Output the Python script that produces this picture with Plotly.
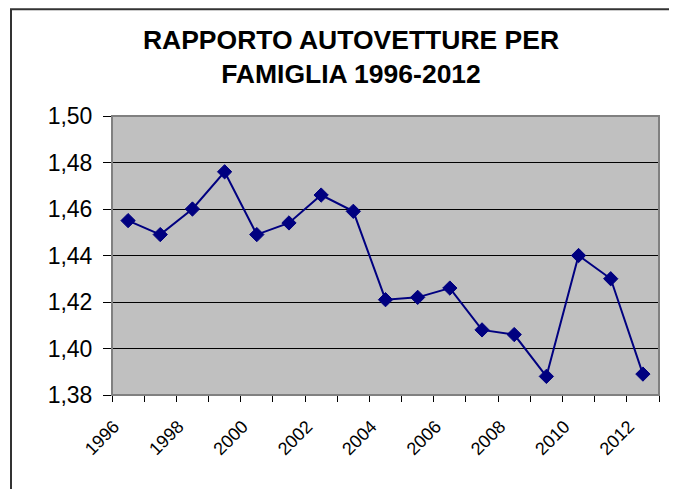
import plotly.graph_objects as go

years = [1996, 1997, 1998, 1999, 2000, 2001, 2002, 2003, 2004, 2005,
         2006, 2007, 2008, 2009, 2010, 2011, 2012]
ratio = [1.455, 1.449, 1.460, 1.476, 1.449, 1.454, 1.466, 1.459, 1.421, 1.422,
         1.426, 1.408, 1.406, 1.388, 1.440, 1.430, 1.389]
label_years = [1996, 1998, 2000, 2002, 2004, 2006, 2008, 2010, 2012]
y_ticks = [1.38, 1.40, 1.42, 1.44, 1.46, 1.48, 1.50]
title_text = "RAPPORTO AUTOVETTURE PER<br>FAMIGLIA 1996-2012"

# page body has an 8px margin, so the figure is sized/offset to compensate
OFF = 8
W, H = 677 - OFF, 489 - OFF
L, T = 112 - OFF, 116 - OFF
R = W - (659 - OFF)
B = H - (395 - OFF)
pw, ph = W - L - R, H - T - B

FONT = "Liberation Sans, Arial, sans-serif"
NAVY = "#000080"

fig = go.Figure()
fig.add_trace(go.Scatter(
    x=years, y=ratio, mode="lines+markers",
    line=dict(color=NAVY, width=2),
    marker=dict(symbol="diamond", size=11, color=NAVY, line=dict(color=NAVY, width=1)),
    showlegend=False, cliponaxis=False,
))

def px_to_paper_x(px):
    return (px - OFF - L) / pw

def px_to_paper_y(py):
    return (H - B - (py - OFF)) / ph

fig.update_layout(
    width=W, height=H,
    margin=dict(l=L, r=R, t=T, b=B, pad=0, autoexpand=False),
    paper_bgcolor="white",
    plot_bgcolor="#C0C0C0",
    separators=",.",
    title=dict(
        text="<b>" + title_text + "</b>",
        font=dict(family=FONT, size=26.5, color="black"),
        x=(351 - OFF) / W, xanchor="center", xref="container",
        y=1 - (30 + 19 - OFF) / H, yanchor="top", yref="container",
    ),
    xaxis=dict(
        range=[years[0] - 0.5, years[-1] + 0.5],
        tickvals=label_years,
        ticktext=[str(v) for v in label_years],
        tickangle=-45,
        ticks="",
        showgrid=False, zeroline=False,
        showline=True, linecolor="black", linewidth=1,
        tickfont=dict(family=FONT, size=18, color="black"),
        ticklabelstandoff=13,
        ticklabelshift=-14,
        minor=dict(
            tickvals=[y - 0.5 for y in years] + [years[-1] + 0.5],
            ticks="outside", ticklen=6, tickcolor="black", tickwidth=1,
            showgrid=False,
        ),
        fixedrange=True,
    ),
    yaxis=dict(
        range=[y_ticks[0], y_ticks[-1]],
        tickvals=y_ticks,
        tickformat=".2f",
        ticks="outside", ticklen=8, tickcolor="black", tickwidth=1,
        showgrid=True, gridcolor="black", gridwidth=1,
        zeroline=False,
        showline=True, linecolor="black", linewidth=1,
        tickfont=dict(family=FONT, size=23, color="black"),
        ticklabelstandoff=6,
        fixedrange=True,
    ),
    shapes=[
        dict(type="rect", xref="paper", yref="paper", x0=0, x1=1, y0=0, y1=1,
             line=dict(color="#808080", width=2), fillcolor="rgba(0,0,0,0)", layer="above"),
        dict(type="rect", xref="paper", yref="paper",
             x0=px_to_paper_x(11), x1=px_to_paper_x(689),
             y0=px_to_paper_y(500), y1=px_to_paper_y(OFF + 1.2),
             line=dict(color="#333333", width=2), fillcolor="rgba(0,0,0,0)"),
    ],
)

fig.write_html("out.html")
